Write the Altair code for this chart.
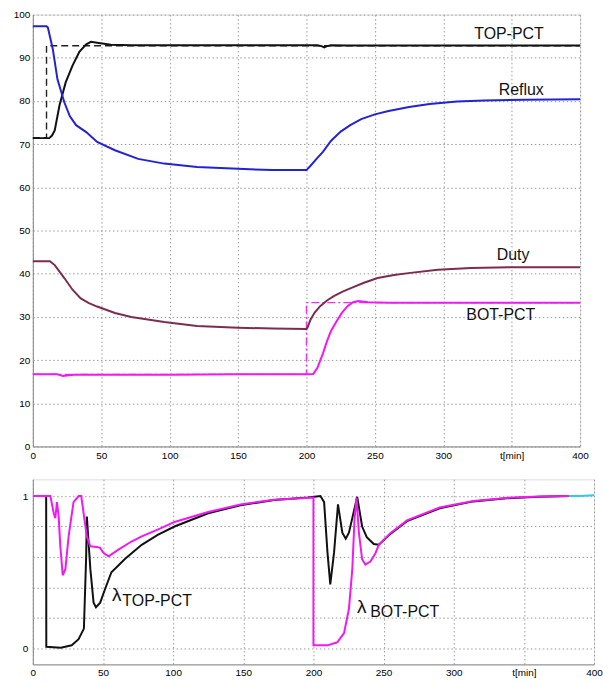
import altair as alt
import pandas as pd

# ---------------- top panel data ----------------
top_t = [0, 12, 14, 16, 19.5, 24, 29, 34, 39, 42.5, 47, 57, 72, 200, 208, 211, 213, 215, 218, 230, 400]
top_v = [71.4, 71.4, 72.0, 73.2, 79.0, 84.3, 88.2, 91.4, 93.1, 93.7, 93.5, 93.0, 92.9, 92.9, 92.9, 92.7, 92.4, 92.7, 92.9, 92.85, 92.85]

reflux_t = [0, 10, 11, 14.6, 18, 23, 27, 31.6, 39, 47, 60, 77, 96, 120, 150, 175, 200, 203, 207, 212, 218, 225, 232, 240, 250, 260, 275, 290, 310, 330, 360, 400]
reflux_v = [97.3, 97.3, 97.0, 92.0, 85.0, 79.7, 76.5, 74.4, 72.8, 70.5, 68.6, 66.6, 65.5, 64.7, 64.3, 64.0, 64.0, 65.0, 66.5, 68.2, 70.8, 72.9, 74.4, 75.8, 76.9, 77.7, 78.6, 79.3, 79.9, 80.1, 80.3, 80.4]

duty_t = [0, 12.5, 16, 23, 29, 35, 41, 47, 60, 72, 84, 96, 120, 150, 175, 200, 200.7, 203, 206, 210, 215, 220, 226, 232, 242, 252, 264, 276, 296, 320, 350, 400]
duty_v = [42.9, 42.9, 42.0, 39.0, 36.3, 34.3, 33.2, 32.4, 30.9, 30.0, 29.4, 28.8, 27.9, 27.5, 27.3, 27.2, 27.5, 29.4, 31.0, 32.5, 33.8, 34.8, 35.8, 36.6, 37.9, 39.0, 39.7, 40.2, 40.9, 41.3, 41.5, 41.5]

bot_t = [0, 18, 22, 26, 30, 100, 150, 200, 205, 208, 212, 215, 218, 222, 226, 230, 234, 238, 245, 260, 300, 400]
bot_v = [16.7, 16.7, 16.3, 16.5, 16.6, 16.6, 16.7, 16.7, 16.8, 18.2, 21.5, 24.4, 26.8, 29.0, 31.0, 32.5, 33.4, 33.7, 33.4, 33.3, 33.3, 33.3]

# set points
sp_top_t = [0, 10, 10, 400]
sp_top_v = [71.5, 71.5, 92.8, 92.8]
sp_bot_t = [0, 200, 200, 400]
sp_bot_v = [16.7, 16.7, 33.3, 33.3]

top_labels = ["TOP-PCT", "Reflux", "Duty", "BOT-PCT"]
top_label_t = [348, 357, 351, 342]
top_label_v = [95.6, 82.5, 44.4, 30.4]

# ---------------- bottom panel data ----------------
lam_top_t = [0, 9.5, 9.6, 20, 27.7, 32.6, 36.4, 38.0, 38.5, 41, 43.3, 45, 48, 51.5, 56, 66, 77.6, 89, 101, 125, 148, 172, 196,
             205, 207.6, 210, 212, 214.7, 217.5, 220.6, 223, 225.3, 231.2, 234.7, 238, 243, 246.6, 254.6, 266.7, 290, 314, 337.6, 361, 382]
lam_top_v = [1, 1, 0.01, 0.005, 0.02, 0.06, 0.13, 0.6, 0.865, 0.52, 0.30, 0.27, 0.30, 0.39, 0.50, 0.59, 0.68, 0.745, 0.80, 0.887, 0.94, 0.974, 0.99,
             1.0, 0.96, 0.63, 0.42, 0.63, 0.945, 0.76, 0.72, 0.76, 0.995, 0.80, 0.73, 0.685, 0.68, 0.75, 0.835, 0.92, 0.965, 0.985, 0.995, 1.0]

lam_bot_t = [0, 12.5, 14.9, 16, 17.2, 18.4, 19.6, 21.3, 23.2, 25.5, 29, 32.6, 34.5, 36.2, 38.5, 41, 45.6, 48, 50.4, 54, 61, 70, 77.6, 89, 101, 125, 148, 172, 200,
             200, 210, 217, 221.8, 225.3, 227.7, 229.3, 230.7, 232.4, 234.7, 237, 240.6, 244.2, 246.6, 254.6, 266.7, 290, 314, 337.6, 361, 382]
lam_bot_v = [1, 1, 0.887, 0.855, 0.96, 0.865, 0.67, 0.48, 0.52, 0.735, 0.96, 1.0, 1.0, 0.887, 0.735, 0.67, 0.665, 0.66, 0.626, 0.604, 0.648, 0.70, 0.735, 0.78, 0.83, 0.895, 0.945, 0.976, 0.99,
             0.02, 0.02, 0.04, 0.10, 0.26, 0.52, 0.85, 0.99, 0.76, 0.585, 0.55, 0.57, 0.625, 0.68, 0.755, 0.84, 0.925, 0.968, 0.988, 0.997, 1.0]

lam_end_t = [382, 390, 400]
lam_end_v = [1.0, 1.0, 1.005]

lam_sym = ["λ", "λ"]
lam_sym_t = [56.5, 231.0]
lam_sym_v = [0.35, 0.271]
lam_sub = ["TOP-PCT", "BOT-PCT"]
lam_sub_t = [63.8, 240.5]
lam_sub_v = [0.314, 0.238]

FONT = "Liberation Sans"


def frame(name, ts, vs):
    return pd.DataFrame({"t": ts, "v": vs, "s": name, "i": list(range(len(ts)))})


top_df = pd.concat([
    frame("TOP-PCT", top_t, top_v),
    frame("Reflux", reflux_t, reflux_v),
    frame("Duty", duty_t, duty_v),
    frame("BOT-PCT", bot_t, bot_v),
])
sp_top_df = frame("sp_top", sp_top_t, sp_top_v)
sp_bot_df = frame("sp_bot", sp_bot_t, sp_bot_v)
top_lab_df = pd.DataFrame({"t": top_label_t, "v": top_label_v, "label": top_labels})

bot_df = pd.concat([
    frame("lam_top", lam_top_t, lam_top_v),
    frame("lam_bot", lam_bot_t, lam_bot_v),
    frame("lam_end", lam_end_t, lam_end_v),
])
sym_df = pd.DataFrame({"t": lam_sym_t, "v": lam_sym_v, "label": lam_sym})
sub_df = pd.DataFrame({"t": lam_sub_t, "v": lam_sub_v, "label": lam_sub})

grid_dash = [1.5, 2.5]
GRID = "#9a9a9a"


def x_axis(pad):
    return alt.Axis(values=list(range(0, 401, 50)), title=None, ticks=False, labelPadding=pad,
                    labelExpr="datum.value == 350 ? 't[min]' : datum.label",
                    grid=True, gridDash=grid_dash, gridColor=GRID, labelFlush=False)


xs_top = alt.Scale(domain=[0, 400], nice=False, zero=False)
ys_top = alt.Scale(domain=[0, 100], nice=False)

X_top = alt.X("t:Q", scale=xs_top, axis=x_axis(4))
Y_top = alt.Y("v:Q", scale=ys_top, axis=alt.Axis(values=list(range(0, 101, 10)), title=None, ticks=False,
                                                    labelPadding=3, grid=True, gridDash=grid_dash,
                                                    gridColor=GRID))

top_colors = alt.Scale(domain=["TOP-PCT", "Reflux", "Duty", "BOT-PCT"],
                       range=["#111111", "#2323d2", "#7c2d4f", "#f218f2"])

lines_top = alt.Chart(top_df).mark_line(strokeWidth=2).encode(
    x=X_top, y=Y_top,
    color=alt.Color("s:N", scale=top_colors, legend=None),
    order="i:Q",
)
sp_top_line = alt.Chart(sp_top_df).mark_line(strokeWidth=1.4, strokeDash=[7, 4], color="#222222").encode(
    x=X_top, y=Y_top, order="i:Q")
sp_bot_line = alt.Chart(sp_bot_df).mark_line(strokeWidth=1.4, strokeDash=[8, 3, 2, 3], color="#f030f0").encode(
    x=X_top, y=Y_top, order="i:Q")
top_text = alt.Chart(top_lab_df).mark_text(font=FONT, fontSize=16, color="#111111").encode(
    x=X_top, y=Y_top, text="label:N")

top = alt.layer(sp_top_line, sp_bot_line, lines_top, top_text).properties(width=550, height=434)

# bottom
xs_bot = alt.Scale(domain=[0, 400], nice=False, zero=False)
ys_bot = alt.Scale(domain=[-0.105, 1.11], nice=False, zero=False)
X_bot = alt.X("t:Q", scale=xs_bot, axis=x_axis(3))
Y_bot = alt.Y("v:Q", scale=ys_bot, axis=alt.Axis(values=[0, 0.2, 0.4, 0.6, 0.8, 1.0], title=None, ticks=False,
                                                    labelPadding=5, grid=True, gridDash=grid_dash,
                                                    gridColor=GRID,
                                                    labelExpr="datum.value == 0 ? '0' : (datum.value == 1 ? '1' : '')"))

bot_colors = alt.Scale(domain=["lam_top", "lam_bot", "lam_end"], range=["#111111", "#f218f2", "#33c8e6"])
lines_bot = alt.Chart(bot_df).mark_line(strokeWidth=2, clip=True).encode(
    x=X_bot, y=Y_bot,
    color=alt.Color("s:N", scale=bot_colors, legend=None),
    order="i:Q",
)
sym_text = alt.Chart(sym_df).mark_text(font=FONT, fontSize=19, color="#111111", align="left").encode(
    x=X_bot, y=Y_bot, text="label:N")
sub_text = alt.Chart(sub_df).mark_text(font=FONT, fontSize=16, color="#111111", align="left").encode(
    x=X_bot, y=Y_bot, text="label:N")

bottom = alt.layer(lines_bot, sym_text, sub_text).properties(width=564, height=186)

chart = alt.concat(top, bottom, columns=1, spacing=17, align="none").resolve_scale(
    color="independent"
).properties(
    padding={"left": 12, "top": 7, "right": 0, "bottom": 0}
).configure_view(
    stroke="#111111", strokeWidth=1
).configure_axis(
    labelFont=FONT, labelFontSize=12, labelColor="#333333", domainColor="#111111"
).configure(background="white")

chart.save("out.html", embed_options={"renderer": "svg", "actions": False})
